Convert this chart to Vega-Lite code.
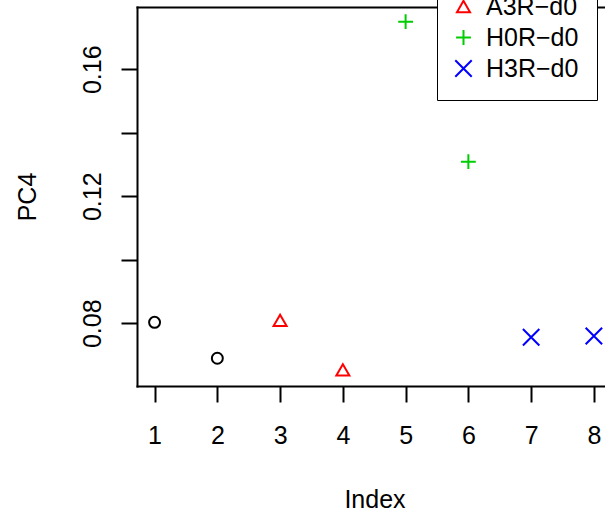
{
  "$schema": "https://vega.github.io/schema/vega-lite/v6.json",
  "width": 468,
  "height": 379,
  "autosize": {"type": "none"},
  "padding": {"left": 137, "top": 7, "right": 0, "bottom": 126},
  "background": "white",
  "config": {
    "view": {"stroke": null},
    "font": "Liberation Sans",
    "axis": {
      "grid": false,
      "domainColor": "black",
      "domainWidth": 2,
      "domainCap": "square",
      "tickColor": "black",
      "tickWidth": 2,
      "tickSize": 16,
      "labelFont": "Liberation Sans",
      "labelFontSize": 25,
      "labelColor": "black",
      "labelFlush": false,
      "labelOverlap": false,
      "titleFont": "Liberation Sans",
      "titleFontSize": 25,
      "titleFontWeight": "normal",
      "titleColor": "black"
    },
    "legend": {
      "padding": 18, "rowPadding": 5, "labelOffset": 10, "symbolOffset": -4,
      "labelFont": "Liberation Sans", "labelFontSize": 25, "labelColor": "black", "labelLimit": 300,
      "strokeColor": "black", "fillColor": "white", "symbolStrokeWidth": 2
    }
  },
  "data": {
    "values": [
      {"index": 1, "pc4": 0.0803, "group": "A0R−d0"},
      {"index": 2, "pc4": 0.0690, "group": "A0R−d0"},
      {"index": 3, "pc4": 0.0809, "group": "A3R−d0"},
      {"index": 4, "pc4": 0.0653, "group": "A3R−d0"},
      {"index": 5, "pc4": 0.1750, "group": "H0R−d0"},
      {"index": 6, "pc4": 0.1309, "group": "H0R−d0"},
      {"index": 7, "pc4": 0.0756, "group": "H3R−d0"},
      {"index": 8, "pc4": 0.0760, "group": "H3R−d0"}
    ]
  },
  "layer": [
    {
      "mark": {"type": "point", "filled": false, "strokeWidth": 2, "opacity": 1},
      "encoding": {
        "x": {
          "field": "index", "type": "quantitative",
          "scale": {"domain": [0.72, 8.177], "nice": false, "zero": false},
          "axis": {
            "orient": "bottom",
            "values": [1, 2, 3, 4, 5, 6, 7, 8],
            "format": "d",
            "labelBaseline": "alphabetic",
            "labelPadding": 41,
            "title": "Index",
            "titleX": 237.5,
            "titleY": 121.7,
            "titleBaseline": "alphabetic",
            "titleAlign": "center"
          }
        },
        "y": {
          "field": "pc4", "type": "quantitative",
          "scale": {"domain": [0.06025, 0.17962], "nice": false, "zero": false},
          "axis": {
            "values": [0.08, 0.1, 0.12, 0.14, 0.16],
            "labelExpr": "(round(datum.value*100) % 4 == 0) ? format(datum.value, '.2f') : ''",
            "labelAngle": 270,
            "labelAlign": "center",
            "labelBaseline": "alphabetic",
            "labelPadding": 20.5,
            "title": "PC4",
            "titleAngle": 270,
            "titleX": -102,
            "titleY": 189.5,
            "titleAlign": "center",
            "titleBaseline": "alphabetic"
          }
        },
        "color": {
          "field": "group", "type": "nominal",
          "scale": {"domain": ["A0R−d0", "A3R−d0", "H0R−d0", "H3R−d0"], "range": ["#000000", "#FF0000", "#00CD00", "#0000FF"]},
          "legend": {"title": null, "orient": "none", "legendX": 300, "legendY": -62}
        },
        "shape": {
          "field": "group", "type": "nominal",
          "scale": {"domain": ["A0R−d0", "A3R−d0", "H0R−d0", "H3R−d0"], "range": ["circle", "triangle-up", "M-1,0H1M0,-1V1", "M-1,-1L1,1M-1,1L1,-1"]},
          "legend": {"title": null, "orient": "none", "legendX": 300, "legendY": -62}
        },
        "size": {
          "field": "group", "type": "nominal",
          "scale": {"domain": ["A0R−d0", "A3R−d0", "H0R−d0", "H3R−d0"], "range": [120, 270, 335, 180]},
          "legend": {"title": null, "orient": "none", "legendX": 300, "legendY": -62}
        }
      }
    },
    {
      "mark": {"type": "point", "opacity": 0},
      "encoding": {
        "x": {
          "field": "index", "type": "quantitative",
          "scale": {"domain": [0.72, 8.177], "nice": false, "zero": false},
          "axis": {"orient": "top", "ticks": false, "labels": false, "title": null, "domain": true}
        }
      }
    }
  ],
  "resolve": {"axis": {"x": "independent"}}
}
